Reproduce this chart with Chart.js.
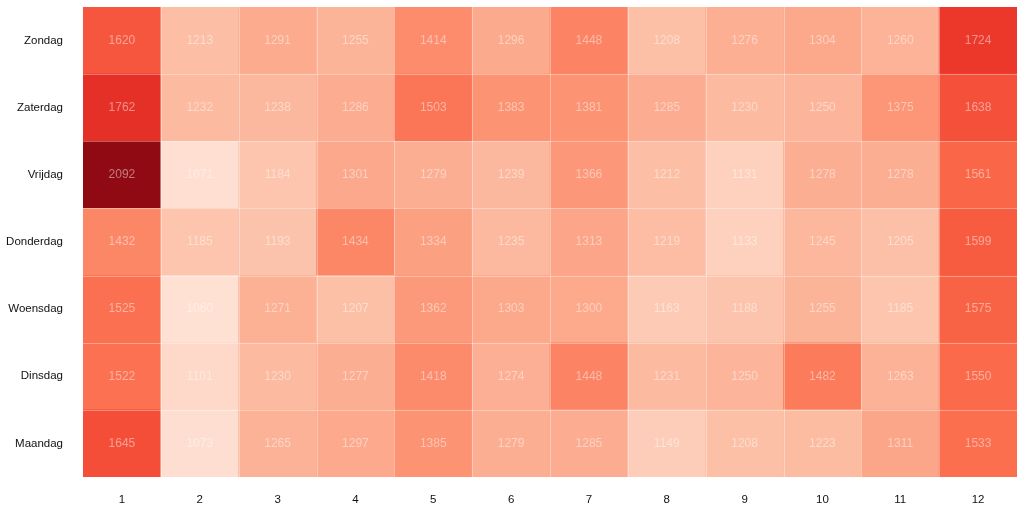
<!DOCTYPE html>
<html>
<head>
<meta charset="utf-8">
<script src="https://cdn.jsdelivr.net/npm/chart.js"></script>
<style>
  html, body { margin: 0; padding: 0; background: #fff; }
  #wrap { width: 1024px; height: 512px; }
</style>
</head>
<body>
<div id="wrap"><canvas id="heat"></canvas></div>
<script>
// columns (1..12) and rows, bottom row first
const months = ["1", "2", "3", "4", "5", "6", "7", "8", "9", "10", "11", "12"];
const days = ["Maandag", "Dinsdag", "Woensdag", "Donderdag", "Vrijdag", "Zaterdag", "Zondag"];

const maandag = [1645, 1073, 1265, 1297, 1385, 1279, 1285, 1149, 1208, 1223, 1311, 1533];
const dinsdag = [1522, 1101, 1230, 1277, 1418, 1274, 1448, 1231, 1250, 1482, 1263, 1550];
const woensdag = [1525, 1060, 1271, 1207, 1362, 1303, 1300, 1163, 1188, 1255, 1185, 1575];
const donderdag = [1432, 1185, 1193, 1434, 1334, 1235, 1313, 1219, 1133, 1245, 1205, 1599];
const vrijdag = [2092, 1071, 1184, 1301, 1279, 1239, 1366, 1212, 1131, 1278, 1278, 1561];
const zaterdag = [1762, 1232, 1238, 1286, 1503, 1383, 1381, 1285, 1230, 1250, 1375, 1638];
const zondag = [1620, 1213, 1291, 1255, 1414, 1296, 1448, 1208, 1276, 1304, 1260, 1724];

const rows = [maandag, dinsdag, woensdag, donderdag, vrijdag, zaterdag, zondag];

// "Reds" colour ramp
const reds = ["#fff5f0", "#fee0d2", "#fcbba1", "#fc9272", "#fb6a4a", "#ef3b2c", "#cb181d", "#a50f15", "#67000d"];

function hexToRgb(h) {
  return [parseInt(h.slice(1, 3), 16), parseInt(h.slice(3, 5), 16), parseInt(h.slice(5, 7), 16)];
}

const allValues = rows.flat();
const vMin = Math.min(...allValues);
const vMax = Math.max(...allValues);

function colorFor(v) {
  let t = 0.12 + (v - vMin) / (vMax - vMin) * 0.80;
  t = Math.max(0, Math.min(1, t));
  const pos = t * (reds.length - 1);
  const i = Math.min(Math.floor(pos), reds.length - 2);
  const f = pos - i;
  const a = hexToRgb(reds[i]);
  const b = hexToRgb(reds[i + 1]);
  const c = a.map((x, k) => Math.round(x + (b[k] - x) * f));
  return `rgb(${c[0]},${c[1]},${c[2]})`;
}

const datasets = rows.map((vals, i) => ({
  label: days[i],
  data: vals.map(() => [i, i + 1]),
  values: vals,
  backgroundColor: vals.map(colorFor),
  borderWidth: 0,
  barPercentage: 1,
  categoryPercentage: 1,
}));

// thin white separators between the cells
const separators = {
  id: "separators",
  afterDatasetsDraw(chart) {
    const { ctx, scales: { x, y }, chartArea } = chart;
    ctx.save();
    ctx.strokeStyle = "rgba(255,255,255,0.35)";
    ctx.lineWidth = 1;
    ctx.beginPath();
    for (let i = 1; i < months.length; i++) {
      const px = Math.round((x.getPixelForValue(i - 1) + x.getPixelForValue(i)) / 2) + 0.5;
      ctx.moveTo(px, chartArea.top);
      ctx.lineTo(px, chartArea.bottom);
    }
    for (let j = 1; j < days.length; j++) {
      const py = Math.round(y.getPixelForValue(j)) + 0.5;
      ctx.moveTo(chartArea.left, py);
      ctx.lineTo(chartArea.right, py);
    }
    ctx.stroke();
    ctx.restore();
  },
};

// cell values
const cellText = {
  id: "cellText",
  afterDatasetsDraw(chart) {
    const { ctx } = chart;
    ctx.save();
    ctx.font = "12px 'Liberation Sans', Arial, sans-serif";
    ctx.fillStyle = "rgba(255,255,255,0.45)";
    ctx.textAlign = "center";
    ctx.textBaseline = "middle";
    chart.data.datasets.forEach((ds, i) => {
      const meta = chart.getDatasetMeta(i);
      meta.data.forEach((bar, k) => {
        const cy = (bar.y + bar.base) / 2;
        ctx.fillText(String(ds.values[k]), bar.x, cy);
      });
    });
    ctx.restore();
  },
};

new Chart(document.getElementById("heat"), {
  type: "bar",
  data: { labels: months, datasets: datasets },
  options: {
    responsive: true,
    maintainAspectRatio: false,
    animation: false,
    layout: { padding: { top: 7, right: 7, bottom: 0, left: 0 } },
    plugins: { legend: { display: false }, tooltip: { enabled: false } },
    scales: {
      x: {
        stacked: true,
        grid: { display: false, drawTicks: false },
        border: { display: false },
        afterFit(axis) {
          axis.height = 35;
          axis.paddingLeft = 0;
          axis.paddingRight = 0;
        },
        ticks: {
          color: "#111",
          padding: 16,
          font: { family: "'Liberation Sans', Arial, sans-serif", size: 11.5 },
        },
      },
      y: {
        type: "linear",
        min: 0,
        max: 7,
        grid: { display: false, drawTicks: false },
        border: { display: false },
        afterBuildTicks(axis) {
          axis.ticks = days.map((d, i) => ({ value: i + 0.5 }));
        },
        afterFit(axis) {
          axis.width = 83;
          axis.paddingTop = 0;
          axis.paddingBottom = 0;
        },
        ticks: {
          color: "#111",
          padding: 20,
          font: { family: "'Liberation Sans', Arial, sans-serif", size: 11.5 },
          callback: (value) => days[Math.floor(value)],
        },
      },
    },
  },
  plugins: [separators, cellText],
});
</script>
</body>
</html>
